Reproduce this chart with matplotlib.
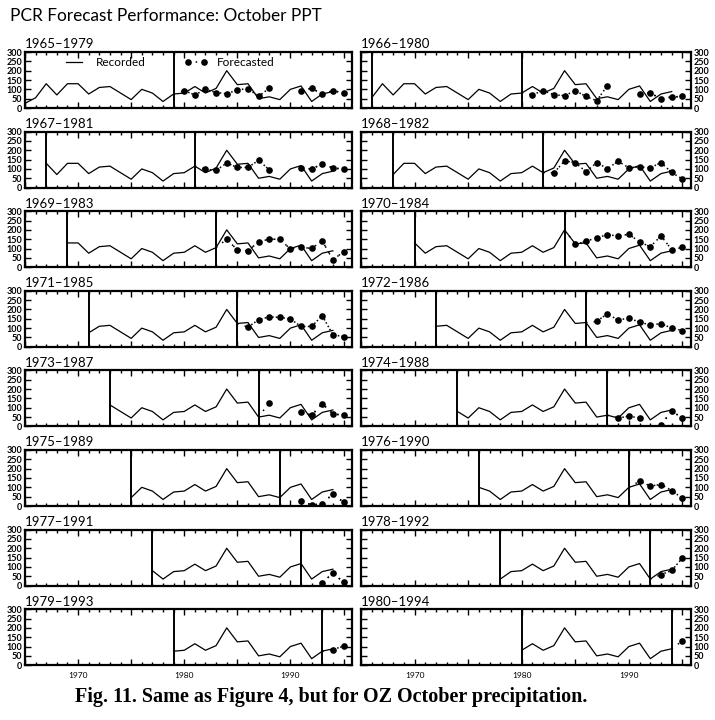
# PCR forecast performance, October precipitation, 16 moving windows

import numpy as np
import matplotlib
matplotlib.use('Agg')
import matplotlib.pyplot as plt
from matplotlib.ticker import MultipleLocator, FuncFormatter

nan = np.nan

# recorded October precipitation
years = list(range(1965, 1995))
recorded = [25, 55, 130, 70, 130, 130, 75, 110, 115, 80, 45, 100, 80, 35, 75,
            80, 115, 80, 105, 200, 125, 130, 50, 60, 45, 100, 118, 35, 75, 88]

# training windows (start year), each 15 years long
starts = list(range(1965, 1981))
last_year = 1995

# forecasts from the year after each window up to 1995
fc_1965 = [93, 70, 100, 83, 76, 97, 104, 62, 106, nan, nan, 93, 106, 74, 93, 80]
fc_1966 = [71, 93, 71, 66, 93, 62, 39, 120, nan, nan, 75, 80, 50, 59, 62]
fc_1967 = [99, 92, 132, 108, 108, 146, 96, nan, nan, 105, 99, 128, 105, 99]
fc_1968 = [79, 143, 134, 85, 134, 102, 141, 106, 111, 106, 134, 81, 46]
fc_1969 = [150, 93, 88, 136, 150, 150, 97, 106, 101, 141, 39, 83]
fc_1970 = [123, 138, 159, 173, 168, 176, 136, 109, 168, 94, 106]
fc_1971 = [105, 145, 160, 158, 149, 109, 109, 167, 64, 55]
fc_1972 = [136, 178, 142, 155, 131, 118, 124, 100, 87]
fc_1973 = [127, nan, nan, 78, 60, 122, 67, 60]
fc_1974 = [45, 55, 45, nan, 9, 82, 45]
fc_1975 = [nan, 28, 5, 12, 65, 20]
fc_1976 = [133, 107, 115, 83, 41]
fc_1977 = [nan, 13, 69, 17]
fc_1978 = [59, 81, 148]
fc_1979 = [84, 102]
fc_1980 = [130]

forecasts = [fc_1965, fc_1966, fc_1967, fc_1968, fc_1969, fc_1970, fc_1971, fc_1972,
             fc_1973, fc_1974, fc_1975, fc_1976, fc_1977, fc_1978, fc_1979, fc_1980]

W, H = 715, 720
fig = plt.figure(figsize=(W / 100, H / 100), dpi=100)
fig.patch.set_facecolor('white')

sans = ['Lato', 'DejaVu Sans']
dotted = (0, (1, 4))

fig.text(10 / W, 1 - 16 / H, 'PCR Forecast Performance: October PPT',
         fontsize=12.4, family=sans, va='center', ha='left')
fig.text(75 / W, 1 - 697 / H, 'Fig. 11. Same as Figure 4, but for OZ October precipitation.',
         fontsize=14.5, family='Liberation Serif', weight='bold', va='center', ha='left')

col_x = [25, 361]
col_w = [327, 330]
row_top0 = 52
row_pitch = 79.6
ax_h = 56

yr = np.array(years)
rec = np.array(recorded, dtype=float)

decade_fmt = FuncFormatter(lambda v, p: f'{int(v)}' if int(round(v)) % 10 == 0 else '')

for i, start in enumerate(starts):
    row, col = divmod(i, 2)
    end = start + 14
    top = row_top0 + row * row_pitch
    ax = fig.add_axes([col_x[col] / W, 1 - (top + ax_h) / H, col_w[col] / W, ax_h / H])

    # recorded series from window start onward
    m = yr >= start
    ax.plot(yr[m], rec[m], color='black', lw=0.9, label='Recorded')

    # forecasts: dotted from last recorded year of the window
    fc = forecasts[i]
    fy = np.arange(end + 1, last_year + 1)
    ax.plot(np.r_[end, fy], np.r_[rec[yr == end], fc], color='black', ls=dotted, lw=1.1)
    ax.plot(fy, fc, ls=dotted, lw=1.1, color='black', marker='o', ms=4.8,
            markeredgewidth=0, label='Forecasted')

    ax.axvline(start, color='black', lw=1.4)
    ax.axvline(end, color='black', lw=1.4)

    ax.set_xlim(1965, 1995.8)
    ax.set_ylim(0, 300)
    ax.yaxis.set_major_locator(MultipleLocator(50))
    ax.xaxis.set_major_locator(MultipleLocator(5))
    ax.xaxis.set_minor_locator(MultipleLocator(1))
    ax.xaxis.set_major_formatter(decade_fmt)
    ax.tick_params(which='both', direction='in', top=True, right=True, width=1)
    ax.tick_params(which='major', length=4)
    ax.tick_params(which='minor', length=2)
    if col == 0:
        ax.tick_params(axis='y', labelleft=True, labelright=False, labelsize=6.5, pad=2)
    else:
        ax.tick_params(axis='y', labelleft=False, labelright=True, labelsize=6.5, pad=2)
    for lab in ax.get_yticklabels():
        lab.set_fontweight('bold')
        lab.set_family(sans)

    if row == 7:
        ax.tick_params(axis='x', labelsize=6, pad=5)
        for lab in ax.get_xticklabels():
            lab.set_family(sans)
    else:
        ax.tick_params(axis='x', labelbottom=False)

    for s in ax.spines.values():
        s.set_linewidth(1.6)

    ax.text(0.0, 1.03, f'{start}\u2013{end}', transform=ax.transAxes,
            fontsize=9.5, family=sans, ha='left', va='bottom')

    if i == 0:
        ax.legend(loc='upper left', bbox_to_anchor=(0.1, 0.99), ncol=2, frameon=False,
                  handlelength=2.0, numpoints=2, columnspacing=3.3,
                  handletextpad=0.8, borderaxespad=0, prop={'family': sans, 'size': 8.5})

fig.savefig('out.png', dpi=100, facecolor='white')
